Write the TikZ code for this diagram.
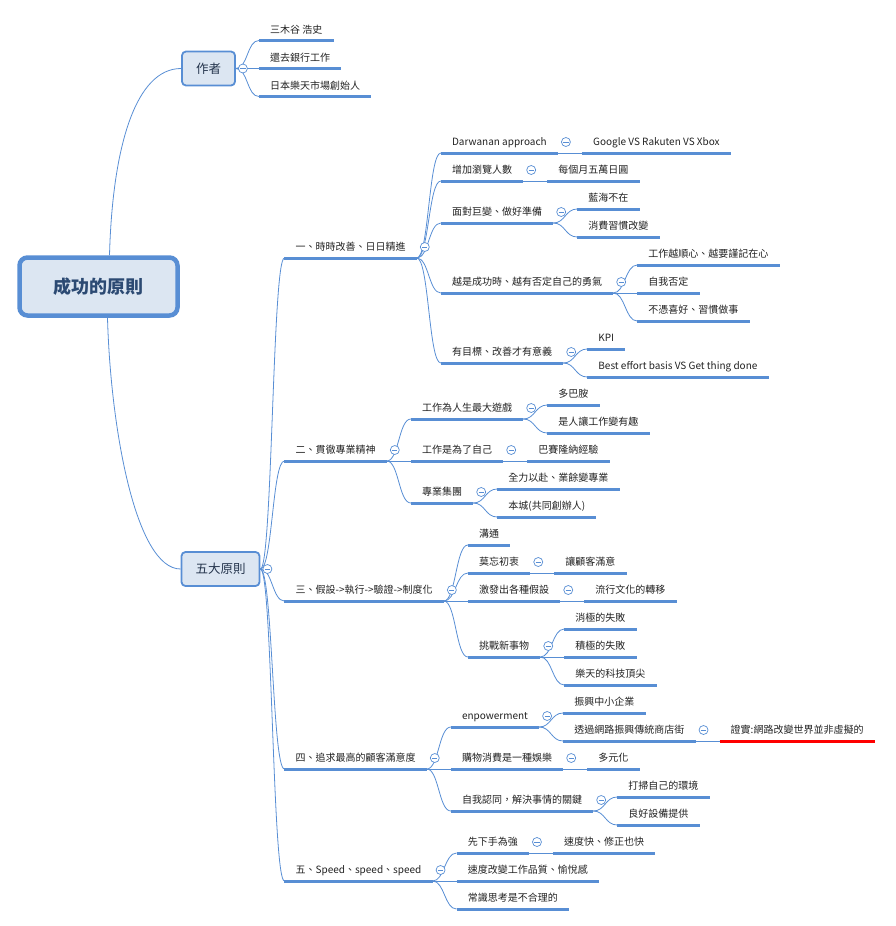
\documentclass[tikz,border=0pt]{standalone}
\usepackage{fontspec}
\setmainfont{Noto Sans CJK TC}
\usetikzlibrary{positioning, calc}

\definecolor{lineblue}{RGB}{88,142,212}
\definecolor{boxfill}{RGB}{220,230,242}
\definecolor{roottext}{RGB}{44,74,115}
\definecolor{boxtext}{RGB}{36,52,76}
\definecolor{leaftext}{RGB}{34,34,34}

\begin{document}
\begin{tikzpicture}[
            x=1pt, y=-1pt,
            rootbox/.style={draw=lineblue, line width=4.5pt, fill=boxfill, rounded corners=8pt, minimum width=158pt, minimum height=58pt, text=roottext, font=\fontsize{18}{20}\selectfont\bfseries},
            groupbox/.style={draw=lineblue, line width=1.8pt, fill=boxfill, rounded corners=4pt, inner xsep=14pt, minimum height=34pt, text=boxtext, font=\fontsize{12.5}{14}\selectfont},
            topic/.style={anchor=south west, inner xsep=11pt, inner ysep=4.7pt, text height=7.5pt, text depth=2.5pt, text=leaftext, font=\fontsize{10}{12}\selectfont,
                append after command={\pgfextra{\let\tpnode\tikzlastnode} (\tpnode.south west) edge[draw=#1, line width=3pt] (\tpnode.south east)}},
            topic/.default=lineblue,
            link/.style={draw=lineblue, line width=0.8pt, to path={.. controls ($(\tikztostart)+(12,0)$) and ($(\tikztotarget)+(-12,0)$) .. (\tikztotarget)}},
            fold/.style={circle, draw=lineblue, fill=white, line width=0.7pt, minimum size=9pt, inner sep=0pt,
                path picture={\draw[lineblue, line width=0.7pt] ([xshift=-2.6pt]path picture bounding box.center) -- ([xshift=2.6pt]path picture bounding box.center);}}
        ]
            \useasboundingbox (0,0) rectangle (896,926);

            % 中心與分組
            \node[rootbox] (root) at (98.5,286.5) {成功的原則};
            \node[groupbox] (author) at (208.5,68.5) {作者};
            \node[groupbox] (five) at (220.5,569) {五大原則};

            % 作者
            \node[topic] (a1) at ([shift={(23,-28)}]author.east) {三木谷 浩史};
            \node[topic] (a2) at ([shift={(23,0)}]author.east) {還去銀行工作};
            \node[topic] (a3) at ([shift={(23,28)}]author.east) {日本樂天市場創始人};

            % 五大原則
            \node[topic] (p1) at ([shift={(24,-311)}]five.east) {一、時時改善、日日精進};
            \node[topic] (p2) at ([shift={(24,-108)}]five.east) {二、貫徹專業精神};
            \node[topic] (p3) at ([shift={(24,32)}]five.east) {三、假設->執行->驗證->制度化};
            \node[topic] (p4) at ([shift={(24,200)}]five.east) {四、追求最高的顧客滿意度};
            \node[topic] (p5) at ([shift={(24,312)}]five.east) {五、Speed、speed、speed};

            % 一
            \node[topic] (p1a) at ([shift={(24,-105)}]p1.south east) {Darwanan approach};
            \node[topic] (p1b) at ([shift={(24,-77)}]p1.south east) {增加瀏覽人數};
            \node[topic] (p1c) at ([shift={(24,-35)}]p1.south east) {面對巨變、做好準備};
            \node[topic] (p1d) at ([shift={(24,35)}]p1.south east) {越是成功時、越有否定自己的勇氣};
            \node[topic] (p1e) at ([shift={(24,105)}]p1.south east) {有目標、改善才有意義};
            \node[topic] (p1a1) at ([shift={(24,0)}]p1a.south east) {Google VS Rakuten VS Xbox};
            \node[topic] (p1b1) at ([shift={(24,0)}]p1b.south east) {每個月五萬日圓};
            \node[topic] (p1c1) at ([shift={(24,-14)}]p1c.south east) {藍海不在};
            \node[topic] (p1c2) at ([shift={(24,14)}]p1c.south east) {消費習慣改變};
            \node[topic] (p1d1) at ([shift={(24,-28)}]p1d.south east) {工作越順心、越要謹記在心};
            \node[topic] (p1d2) at ([shift={(24,0)}]p1d.south east) {自我否定};
            \node[topic] (p1d3) at ([shift={(24,28)}]p1d.south east) {不憑喜好、習慣做事};
            \node[topic] (p1e1) at ([shift={(24,-14)}]p1e.south east) {KPI};
            \node[topic] (p1e2) at ([shift={(24,14)}]p1e.south east) {Best effort basis VS Get thing done};

            % 二
            \node[topic] (p2a) at ([shift={(24,-42)}]p2.south east) {工作為人生最大遊戲};
            \node[topic] (p2b) at ([shift={(24,0)}]p2.south east) {工作是為了自己};
            \node[topic] (p2c) at ([shift={(24,42)}]p2.south east) {專業集團};
            \node[topic] (p2a1) at ([shift={(24,-14)}]p2a.south east) {多巴胺};
            \node[topic] (p2a2) at ([shift={(24,14)}]p2a.south east) {是人讓工作變有趣};
            \node[topic] (p2b1) at ([shift={(24,0)}]p2b.south east) {巴賽隆納經驗};
            \node[topic] (p2c1) at ([shift={(24,-14)}]p2c.south east) {全力以赴、業餘變專業};
            \node[topic] (p2c2) at ([shift={(24,14)}]p2c.south east) {本城(共同創辦人)};

            % 三
            \node[topic] (p3a) at ([shift={(24,-56)}]p3.south east) {溝通};
            \node[topic] (p3b) at ([shift={(24,-28)}]p3.south east) {莫忘初衷};
            \node[topic] (p3c) at ([shift={(24,0)}]p3.south east) {激發出各種假設};
            \node[topic] (p3d) at ([shift={(24,56)}]p3.south east) {挑戰新事物};
            \node[topic] (p3b1) at ([shift={(24,0)}]p3b.south east) {讓顧客滿意};
            \node[topic] (p3c1) at ([shift={(24,0)}]p3c.south east) {流行文化的轉移};
            \node[topic] (p3d1) at ([shift={(24,-28)}]p3d.south east) {消極的失敗};
            \node[topic] (p3d2) at ([shift={(24,0)}]p3d.south east) {積極的失敗};
            \node[topic] (p3d3) at ([shift={(24,28)}]p3d.south east) {樂天的科技頂尖};

            % 四
            \node[topic] (p4a) at ([shift={(24,-42)}]p4.south east) {enpowerment};
            \node[topic] (p4b) at ([shift={(24,0)}]p4.south east) {購物消費是一種娛樂};
            \node[topic] (p4c) at ([shift={(24,42)}]p4.south east) {自我認同，解決事情的關鍵};
            \node[topic] (p4a1) at ([shift={(24,-14)}]p4a.south east) {振興中小企業};
            \node[topic] (p4a2) at ([shift={(24,14)}]p4a.south east) {透過網路振興傳統商店街};
            \node[topic=red] (p4a21) at ([shift={(24,0)}]p4a2.south east) {證實:網路改變世界並非虛擬的};
            \node[topic] (p4b1) at ([shift={(24,0)}]p4b.south east) {多元化};
            \node[topic] (p4c1) at ([shift={(24,-14)}]p4c.south east) {打掃自己的環境};
            \node[topic] (p4c2) at ([shift={(24,14)}]p4c.south east) {良好設備提供};

            % 五
            \node[topic] (p5a) at ([shift={(24,-28)}]p5.south east) {先下手為強};
            \node[topic] (p5b) at ([shift={(24,0)}]p5.south east) {速度改變工作品質、愉悅感};
            \node[topic] (p5c) at ([shift={(24,28)}]p5.south east) {常識思考是不合理的};
            \node[topic] (p5a1) at ([shift={(24,0)}]p5a.south east) {速度快、修正也快};

            % 連線
            \draw[draw=lineblue, line width=0.8pt] ([xshift=11pt]root.north) .. controls +(3,-110) and +(-45,0) .. (author.west);
            \draw[draw=lineblue, line width=0.8pt] ([xshift=9pt]root.south) .. controls +(3,110) and +(-45,0) .. (five.west);
            \foreach \ch in {a1,a2,a3} \draw[link] (author.east) to (\ch.south west);
            \foreach \ch in {p1,p2,p3,p4,p5} \draw[link] (five.east) to (\ch.south west);
            \foreach \pa/\ch in {p1/p1a, p1/p1b, p1/p1c, p1/p1d, p1/p1e, p1a/p1a1, p1b/p1b1, p1c/p1c1, p1c/p1c2, p1d/p1d1, p1d/p1d2, p1d/p1d3, p1e/p1e1, p1e/p1e2,
                p2/p2a, p2/p2b, p2/p2c, p2a/p2a1, p2a/p2a2, p2b/p2b1, p2c/p2c1, p2c/p2c2,
                p3/p3a, p3/p3b, p3/p3c, p3/p3d, p3b/p3b1, p3c/p3c1, p3d/p3d1, p3d/p3d2, p3d/p3d3,
                p4/p4a, p4/p4b, p4/p4c, p4a/p4a1, p4a/p4a2, p4a2/p4a21, p4b/p4b1, p4c/p4c1, p4c/p4c2,
                p5/p5a, p5/p5b, p5/p5c, p5a/p5a1}
                \draw[link] (\pa.south east) to (\ch.south west);

            % 收合按鈕
            \node[fold] (author-fold) at ([xshift=7pt]author.east) {};
            \node[fold] (five-fold) at ([xshift=7pt]five.east) {};
            \foreach \n in {p1,p2,p3,p4,p5,p1a,p1b,p1c,p1d,p1e,p2a,p2b,p2c,p3b,p3c,p3d,p4a,p4a2,p4b,p4c,p5a}
                \node[fold] (\n-fold) at ([shift={(8,-11)}]\n.south east) {};
          \end{tikzpicture}
\end{document}
